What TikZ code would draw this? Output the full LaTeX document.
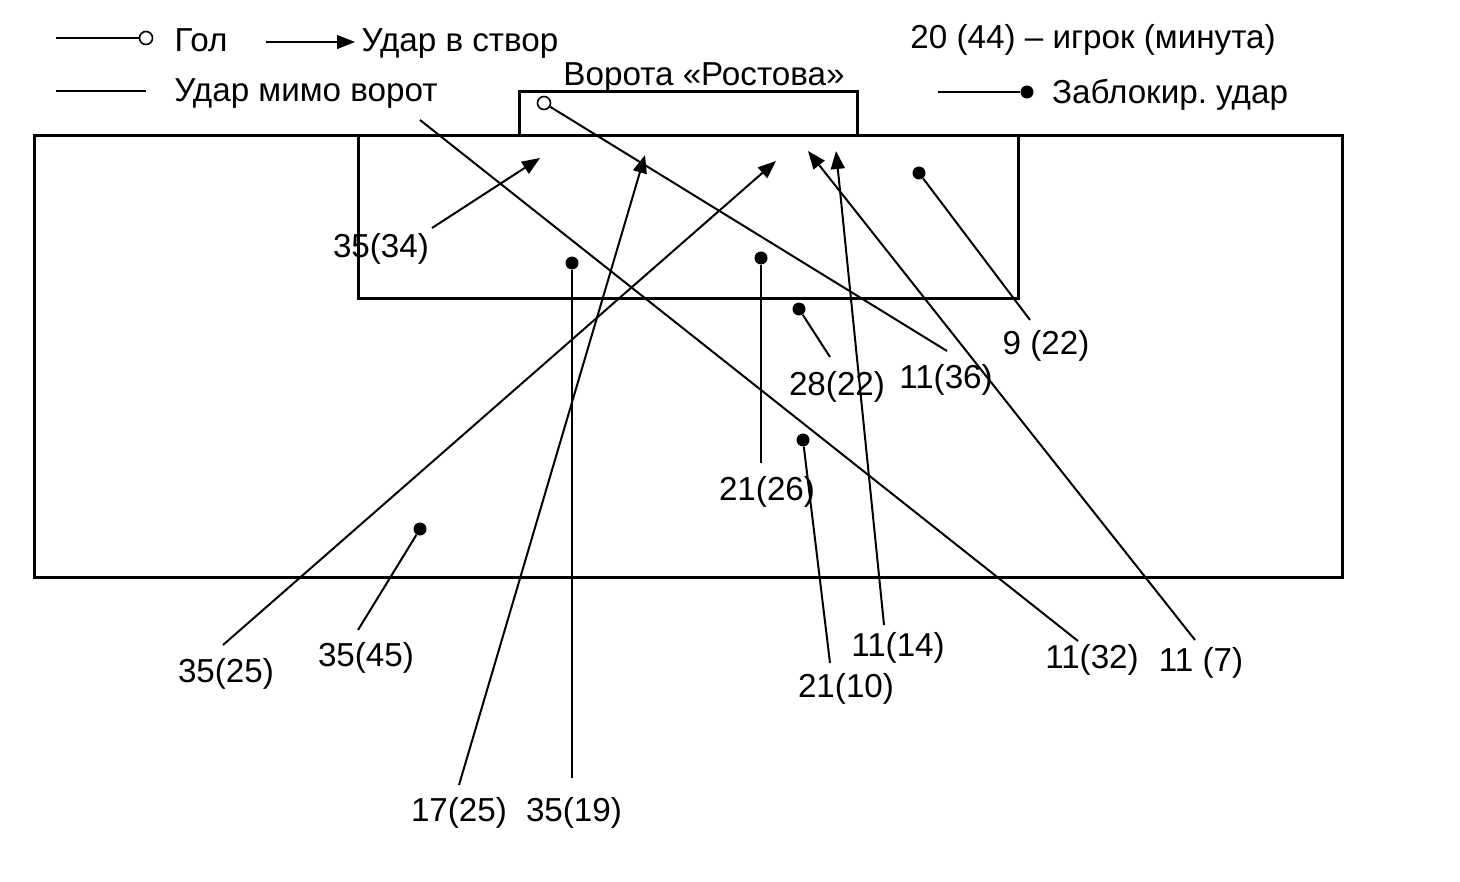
\documentclass[tikz,border=0pt]{standalone}
\usepackage{fontspec}
\setmainfont{Liberation Sans}
\usetikzlibrary{arrows.meta}

\begin{document}
\begin{tikzpicture}[
    x=0.5pt, y=-0.5pt,
    >={Triangle[length=9pt, width=7pt]},
    field/.style={draw, line width=1.5pt},
    shotLine/.style={draw, line width=1pt},
    legLine/.style={draw, line width=0.7pt},
    onTarget/.style={shotLine, ->},
    txt/.style={inner sep=0pt, yshift=-1.5pt, font=\fontsize{16.6}{20}\selectfont},
    goalMark/.style={circle, draw, line width=0.8pt, fill=white, inner sep=0pt, minimum size=6.5pt},
    blockMark/.style={circle, fill=black, inner sep=0pt, minimum size=6.5pt},
  ]
  \useasboundingbox (0,0) rectangle (1460,882);
  % field
  \draw[field] (34,136) rectangle (1342,577);
  \draw[field] (358,136) rectangle (1018,298);
  \draw[field] (519,136) |- (857,92) -- (857,136);
  \node[txt] (goalTitle) at (704,75) {Ворота «Ростова»};
  % legend
  \coordinate (legGoalA) at (56,38);
  \node[goalMark] (legGoalB) at (146,38) {};
  \draw[legLine] (legGoalA) -- (legGoalB);
  \node[txt] (legGoalT) at (201,37) {Гол};
  \coordinate (legOnA) at (266,42);
  \coordinate (legOnB) at (355,42);
  \draw[legLine, ->] (legOnA) -- (legOnB);
  \node[txt] (legOnT) at (460,41) {Удар в створ};
  \coordinate (legMissA) at (56,91);
  \coordinate (legMissB) at (146,91);
  \draw[legLine] (legMissA) -- (legMissB);
  \node[txt] (legMissT) at (306,91) {Удар мимо ворот};
  \node[txt] (legKeyT) at (1093,37) {20 (44) – игрок (минута)};
  \coordinate (legBlockA) at (938,92);
  \node[blockMark] (legBlockB) at (1027,92) {};
  \draw[legLine] (legBlockA) -- (legBlockB);
  \node[txt] (legBlockT) at (1170,92) {Заблокир.\ удар};
  % labels
  \node[txt] (l3534) at (381,246) {35(34)};
  \node[txt] (l1725) at (459,810) {17(25)};
  \node[txt] (l3519) at (574,810) {35(19)};
  \node[txt] (l3525) at (226,671) {35(25)};
  \node[txt] (l3545) at (366,655) {35(45)};
  \node[txt] (l2110) at (846,686) {21(10)};
  \node[txt] (l1114) at (898,645) {11(14)};
  \node[txt] (l1132) at (1092,657) {11(32)};
  \node[txt] (l1107) at (1201,660) {11 (7)};
  \node[txt] (l2126) at (767,489) {21(26)};
  \node[txt] (l2822) at (837,384) {28(22)};
  \node[txt] (l1136) at (946,377) {11(36)};
  \node[txt] (l0922) at (1046,343) {9 (22)};
  % line ends
  \coordinate (s3534) at (432,228);  \coordinate (t3534) at (540,158);
  \coordinate (s1725) at (459,785);  \coordinate (t1725) at (645,155);
  \coordinate (s3525) at (223,645);  \coordinate (t3525) at (776,161);
  \coordinate (s1107) at (1195,640); \coordinate (t1107) at (808,151);
  \coordinate (s1114) at (884,625);  \coordinate (t1114) at (836,151);
  \coordinate (s1132) at (1078,641); \coordinate (t1132) at (420,120);
  \coordinate (s1136) at (947,351);
  \coordinate (s0922) at (1030,320);
  \coordinate (s2822) at (830,357);
  \coordinate (s2126) at (761,463);
  \coordinate (s2110) at (830,663);
  \coordinate (s3519) at (572,778);
  \coordinate (s3545) at (358,630);
  % marks
  \node[goalMark] (g1136) at (544,103) {};
  \node[blockMark] (b0922) at (919,173) {};
  \node[blockMark] (b2822) at (799,309) {};
  \node[blockMark] (b2126) at (761,258) {};
  \node[blockMark] (b2110) at (803,440) {};
  \node[blockMark] (b3519) at (572,263) {};
  \node[blockMark] (b3545) at (420,529) {};
  % shots
  \draw[onTarget] (s3534) -- (t3534);
  \draw[onTarget] (s1725) -- (t1725);
  \draw[onTarget] (s3525) -- (t3525);
  \draw[onTarget] (s1107) -- (t1107);
  \draw[onTarget] (s1114) -- (t1114);
  \draw[shotLine] (s1132) -- (t1132);
  \draw[shotLine] (s1136) -- (g1136);
  \draw[shotLine] (s0922) -- (b0922);
  \draw[shotLine] (s2822) -- (b2822);
  \draw[shotLine] (s2126) -- (b2126);
  \draw[shotLine] (s2110) -- (b2110);
  \draw[shotLine] (s3519) -- (b3519);
  \draw[shotLine] (s3545) -- (b3545);
\end{tikzpicture}
\end{document}
